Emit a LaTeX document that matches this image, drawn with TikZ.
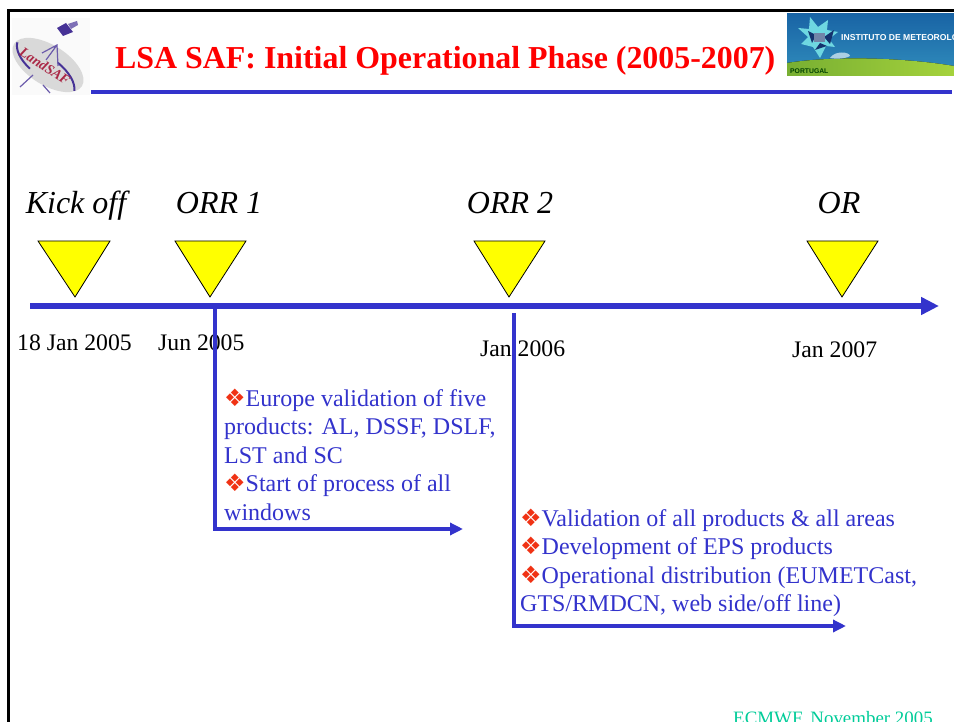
\documentclass[tikz,border=0pt]{standalone}
\usepackage{fontspec}
\setmainfont{Liberation Serif}
\setsansfont{Liberation Sans}
\newfontfamily\symfont{DejaVu Sans}
\usetikzlibrary{arrows.meta,shapes.geometric}
\definecolor{blueline}{RGB}{51,51,204}
\definecolor{bullred}{RGB}{240,50,20}
\definecolor{teal2}{RGB}{0,204,153}
\definecolor{tri}{RGB}{255,255,0}
\definecolor{logored}{RGB}{170,40,70}
\definecolor{logoblue}{RGB}{70,50,150}
\definecolor{imtop}{RGB}{25,100,165}
\definecolor{imbot}{RGB}{45,135,185}
\definecolor{imgreenL}{RGB}{120,175,50}
\definecolor{imgreenR}{RGB}{165,210,60}
\definecolor{imstar}{RGB}{110,215,225}
\definecolor{imdark}{RGB}{20,50,110}
\newcommand{\blt}{\raisebox{0pt}[0pt][0pt]{\color{bullred}\symfont\fontsize{24}{28.5}\selectfont ❖}}
\tikzset{
  x=1pt,y=-1pt,
  frameline/.style={black,line width=3pt},
  rule/.style={blueline,line width=4pt},
  axis/.style={blueline,line width=6pt,-{Triangle[length=18pt,width=17pt]}},
  elbow/.style={blueline,line width=3.6pt,line cap=rect,-{Triangle[length=13pt,width=12pt]}},
  gate/.style={draw=black,line width=0.8pt,fill=tri},
  mile/.style={font=\fontsize{32}{36}\selectfont\itshape,anchor=base,inner sep=0pt},
  dated/.style={font=\fontsize{23.7}{26}\selectfont,anchor=base west,inner sep=0pt},
  body/.style={font=\fontsize{24}{28.6}\selectfont,text=blueline,anchor=north west,align=left,inner sep=0pt},
}
\begin{document}
\begin{tikzpicture}
\useasboundingbox (0,0) rectangle (954,722);
\clip (0,0) rectangle (954,722);
\fill[white] (0,0) rectangle (954,722);
% frame
\draw[frameline] (8,722) -- (8,11) -- (954,11);
% left logo
\fill[black!2] (12,18) rectangle (90,95);
\begin{scope}[rotate around={-32:(48,65)}]
\fill[black!15] (48,65) ellipse (40 and 20);
\draw[logoblue,line width=2pt] (10,62) arc (172:112:40 and 20);
\draw[logoblue,line width=2pt] (84,73) arc (-12:-75:40 and 20);
\end{scope}
\draw[logoblue!80,line width=1.2pt] (42,53) -- (57,45) -- (58,66) (57,45) -- (46,60);
\draw[logoblue!80,line width=1.2pt] (20,87) -- (33,75) (43,85) -- (50,93);
\fill[logoblue] (57,28) -- (66,23) -- (73,32) -- (63,36) -- cycle;
\fill[logoblue!70] (68,24) -- (77,21) -- (78,25) -- (71,29) -- cycle;
\node[text=logored,font=\fontsize{14}{14}\selectfont\itshape\bfseries,rotate=-33,inner sep=0pt] (logotext) at (45,66) {LandSAF};
% right logo
\shade[top color=imtop,bottom color=imbot] (787,14) rectangle (954,66);
\fill[left color=imgreenL,right color=imgreenR] (787,76) -- (787,63) .. controls (830,56) and (900,57) .. (954,66) -- (954,76) -- cycle;
\fill[white!60!imbot] (830,58) .. controls (835,50) and (850,52) .. (850,56) .. controls (845,59) and (835,59) .. (830,58) -- cycle;
\fill[imstar] (810,17) -- (818,27) -- (828,20) -- (827,30) -- (838,32) -- (829,39) -- (835,47) -- (826,46) -- (820,58) -- (813,47) -- (801,44) -- (808,37) -- (798,28) -- (809,29) -- cycle;
\fill[imdark] (808,31) -- (816,35) -- (812,43) -- cycle (834,30) -- (824,37) -- (830,44) -- cycle (815,50) -- (820,43) -- (827,46) -- cycle;
\fill[imdark!60] (814,33) rectangle (825,42);
\node[text=white,font=\sffamily\fontsize{8.6}{9}\selectfont\bfseries,anchor=base west,inner sep=0pt] (imlogo) at (841,41) {INSTITUTO DE METEOROLOGIA};
\node[text=green!25!black,font=\sffamily\fontsize{6.8}{7}\selectfont\bfseries,anchor=base west,inner sep=0pt] (ptlogo) at (790,74) {PORTUGAL};
% title
\node[text=red,font=\fontsize{31.9}{34}\selectfont\bfseries,anchor=base west,inner sep=0pt] (title) at (115,69) {LSA SAF: Initial Operational Phase (2005-2007)};
\coordinate (ruleL) at (91,92);
\coordinate (ruleR) at (952,92);
\draw[rule] (ruleL) -- (ruleR);
% milestones
\node[mile] (m1) at (76,214) {Kick off};
\node[mile] (m2) at (219,214) {ORR 1};
\node[mile] (m3) at (510,214) {ORR 2};
\node[mile] (m4) at (839,214) {OR};
\draw[gate] (38,241) -- (110,241) -- (75,297) -- cycle;
\draw[gate] (175,241) -- (246,241) -- (210,297) -- cycle;
\draw[gate] (474,241) -- (545,241) -- (509,297) -- cycle;
\draw[gate] (807,241) -- (878,241) -- (842,297) -- cycle;
% dates
\node[dated] (d1) at (17,350) {18 Jan 2005};
\node[dated] (d2) at (158,350) {Jun 2005};
\node[dated] (d3) at (480,356) {Jan 2006};
\node[dated] (d4) at (792,358) {Jan 2007};
% axis
\coordinate (axL) at (30,306);
\coordinate (axR) at (939,306);
\draw[axis] (axL) -- (axR);
% branches
\coordinate (b1a) at (215,306);
\coordinate (b1b) at (215,529);
\coordinate (b1c) at (463,529);
\draw[elbow] (b1a) -- (b1b) -- (b1c);
\coordinate (b2a) at (514,315);
\coordinate (b2b) at (514,626);
\coordinate (b2c) at (846,626);
\draw[elbow] (b2a) -- (b2b) -- (b2c);
% bodies
\node[body] (t1) at (224,389) {\blt Europe validation of five\\products: AL, DSSF, DSLF,\\LST and SC\\\blt Start of process of all\\windows};
\node[body] (t2) at (520,509) {\blt Validation of all products \& all areas\\\blt Development of EPS products\\\blt Operational distribution (EUMETCast,\\GTS/RMDCN, web side/off line)};
% footer
\node[text=teal2,font=\fontsize{18.9}{22}\selectfont,anchor=base west,inner sep=0pt] (foot) at (733,724) {ECMWF, November 2005};
\end{tikzpicture}
\end{document}
